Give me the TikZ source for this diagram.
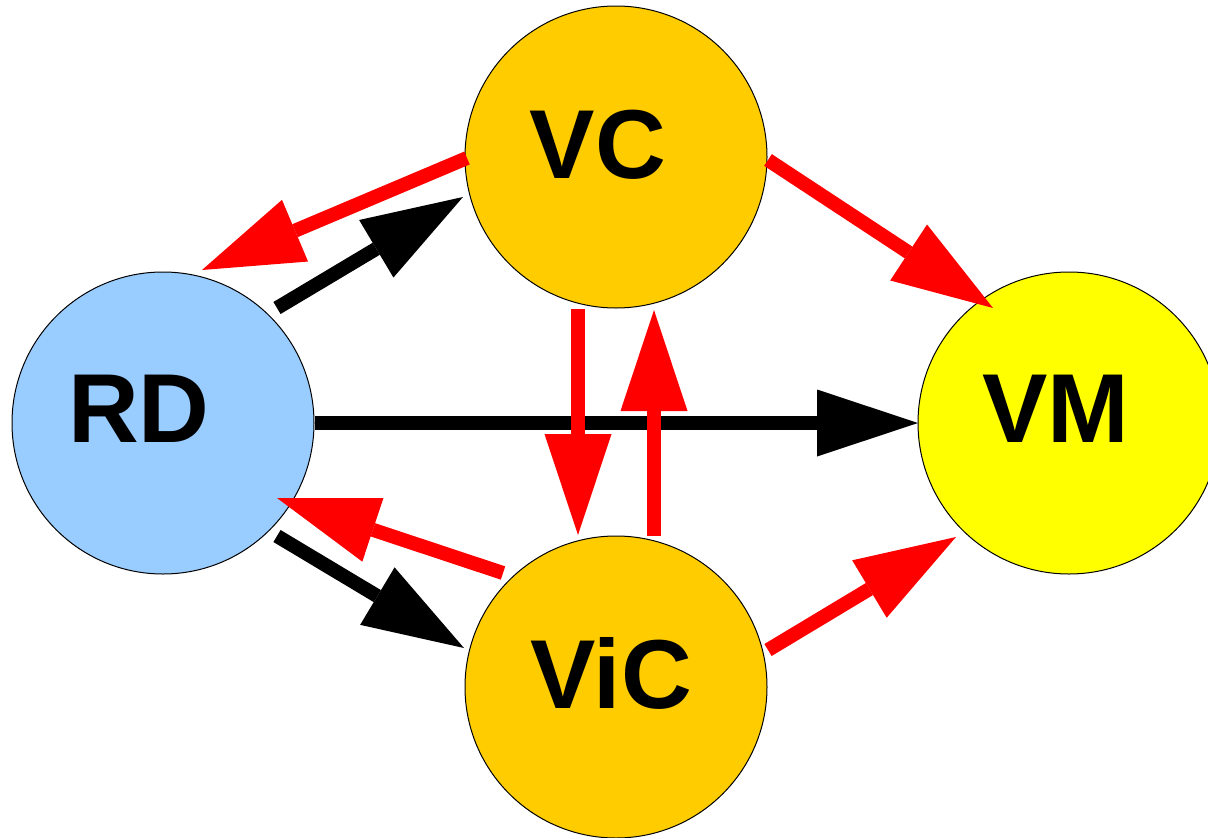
\documentclass[tikz,border=0pt]{standalone}
\usepackage{fontspec}
\setmainfont{Liberation Sans}
\usetikzlibrary{arrows.meta,calc}
\definecolor{vcorange}{HTML}{FFCC00}
\definecolor{rdblue}{HTML}{99CCFF}
\definecolor{vmyellow}{HTML}{FFFF00}
\definecolor{arrred}{HTML}{FF0000}
\tikzset{
  ball/.style={circle,draw=black,line width=1pt,minimum size=302pt,inner sep=0pt,outer sep=0pt},
  lbl/.style={inner sep=0pt,outer sep=0pt,font=\fontsize{98}{100}\selectfont\bfseries},
  bigarrow/.style={line width=14pt,line cap=butt,-{Triangle[length=101pt,width=67pt,line width=0pt]}},
  redarrow/.style={bigarrow,draw=arrred},
  blackarrow/.style={bigarrow,draw=black}
}
\begin{document}
\begin{tikzpicture}[x=1pt,y=-1pt]
\useasboundingbox (0,0) rectangle (1208,838);
\clip (0,0) rectangle (1208,838);
\node[ball,fill=rdblue] (RD) at (163,423) {};
\node[ball,fill=vcorange] (VC) at (616,157) {};
\node[ball,fill=vmyellow] (VM) at (1069,423) {};
\node[ball,fill=vcorange] (ViC) at (616,687) {};
\node[lbl] (tRD) at (139,408.5) {RD};
\node[lbl] (tVC) at (598,145) {VC};
\node[lbl] (tVM) at (1056,408.5) {VM};
\node[lbl] (tViC) at (611,673) {ViC};
% arrows
\draw[blackarrow] ($(RD.center)+(114,-115)$) -- ($(VC.center)+(-153,40)$);
\draw[redarrow] ($(VC.center)+(-149,1)$) -- ($(RD.center)+(39,-153)$);
\draw[redarrow] ($(VC.center)+(152,3)$) -- ($(VM.center)+(-76,-115)$);
\draw[blackarrow] ($(RD.center)+(152,0)$) -- ($(VM.center)+(-151,0)$);
\draw[redarrow] ($(VC.center)+(-38,152)$) -- ($(ViC.center)+(-38,-152)$);
\draw[redarrow] ($(ViC.center)+(38,-151)$) -- ($(VC.center)+(38,153)$);
\draw[redarrow] ($(ViC.center)+(-113,-114)$) -- ($(RD.center)+(114,75)$);
\draw[blackarrow] ($(RD.center)+(114,113)$) -- ($(ViC.center)+(-152,-39)$);
\draw[redarrow] ($(ViC.center)+(152,-37)$) -- ($(VM.center)+(-113,114)$);
\end{tikzpicture}
\end{document}
